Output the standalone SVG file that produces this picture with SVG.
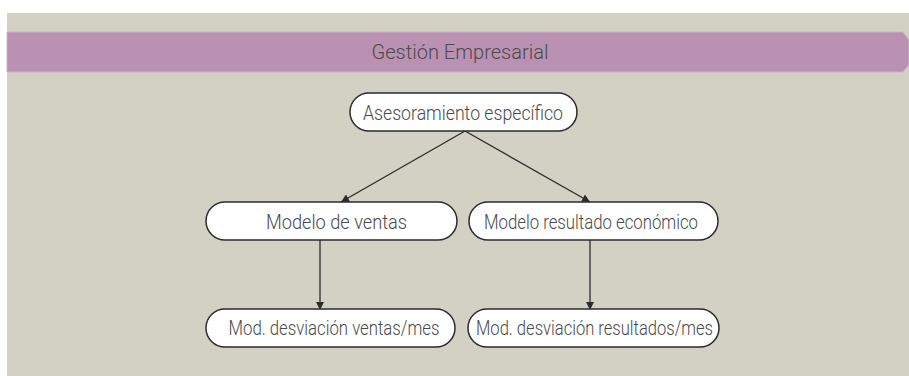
<svg xmlns="http://www.w3.org/2000/svg" width="909" height="376" viewBox="0 0 909 376">
<defs>
<style>
.node rect{fill:#fff;stroke:#2b2b2b;stroke-width:1.5}
.node text,.title{font-family:Roboto,"Liberation Sans",sans-serif;font-weight:300;fill:#4a4a4a;text-anchor:middle}
.node text{font-size:20px}
.edge{stroke:#2b2b2b;stroke-width:1.3;fill:none;marker-end:url(#ah)}
</style>
<marker id="ah" viewBox="0 0 10 10" refX="10" refY="5" markerWidth="10" markerHeight="8" markerUnits="userSpaceOnUse" orient="auto"><path d="M0,0L10,5L0,10z" fill="#2b2b2b"/></marker>
</defs>
<rect x="0" y="0" width="909" height="376" fill="#fff"/>
<rect x="7" y="13" width="902" height="363" fill="#d3d1c4"/>
<g id="banner">
<path d="M7,32H903L909,40V65L903,72H7Z" fill="#bb91b3" stroke="#cbb5c4" stroke-width="1"/>
<text class="title" x="460" y="59" font-size="20" textLength="177" lengthAdjust="spacingAndGlyphs">Gestión Empresarial</text>
</g>
<g id="connectors">
<line class="edge" x1="465" y1="131" x2="341" y2="202"/>
<line class="edge" x1="465" y1="131" x2="590" y2="202"/>
<line class="edge" x1="320" y1="240" x2="320" y2="310"/>
<line class="edge" x1="590" y1="240" x2="590" y2="310"/>
</g>
<g id="n1" class="node"><rect x="350" y="93" width="227" height="38" rx="19"/><text x="463" y="120" textLength="200" lengthAdjust="spacingAndGlyphs">Asesoramiento específico</text></g>
<g id="n2" class="node"><rect x="206" y="202" width="251" height="38" rx="19"/><text x="336.5" y="229" textLength="141" lengthAdjust="spacingAndGlyphs">Modelo de ventas</text></g>
<g id="n3" class="node"><rect x="469" y="202" width="249" height="38" rx="19"/><text x="591" y="229" textLength="214" lengthAdjust="spacingAndGlyphs">Modelo resultado económico</text></g>
<g id="n4" class="node"><rect x="206" y="309" width="249" height="38" rx="19"/><text x="334" y="335" textLength="211" lengthAdjust="spacingAndGlyphs">Mod. desviación ventas/mes</text></g>
<g id="n5" class="node"><rect x="468" y="309" width="251" height="38" rx="19"/><text x="594.5" y="335" textLength="237" lengthAdjust="spacingAndGlyphs">Mod. desviación resultados/mes</text></g>
</svg>
